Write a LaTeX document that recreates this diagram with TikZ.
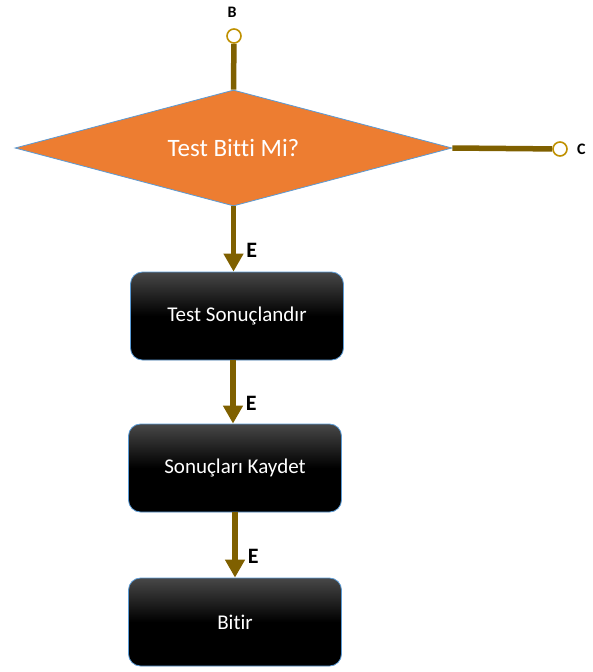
\documentclass[tikz,border=0pt]{standalone}
\usepackage{fontspec}
\setmainfont{Carlito}[Ligatures=NoCommon]
\usepackage{tikz}
\usepackage{xcolor}
\usetikzlibrary{shapes.geometric, arrows.meta, positioning, calc}
\definecolor{decision}{RGB}{237, 125, 49}
\definecolor{edgeblue}{RGB}{91, 155, 213}
\definecolor{flowbrown}{RGB}{127, 96, 0}
\definecolor{portgold}{RGB}{191, 144, 0}

\begin{document}
\begin{tikzpicture}[x=1pt, y=-1pt]
\tikzset{
  actbox/.style={rectangle, rounded corners=12pt, draw=edgeblue, line width=0.8pt,
      top color=black!72, bottom color=black, middle color=black,
      minimum width=213pt, minimum height=88pt, text=white, font=\fontsize{21}{24}\selectfont},
  flow/.style={draw=flowbrown, line width=5.5pt, -{Triangle[width=19pt,length=18pt]}},
  port/.style={circle, draw=portgold, fill=white, line width=1.6pt, minimum size=14pt, inner sep=0pt},
  tag/.style={font=\bfseries\fontsize{22}{24}\selectfont, inner sep=0pt}
}
\useasboundingbox (0,0) rectangle (592,672);

% Decision
\node[diamond, draw=edgeblue, line width=0.8pt, fill=decision, inner sep=0pt,
      aspect=3.77, minimum width=437pt, minimum height=116pt,
      text=white, font=\fontsize{25}{28}\selectfont] (test) at (233.5,148) {Test Bitti Mi?};

% Entry and exit ports
\node[port] (b) at (234,36) {};
\node[tag, font=\bfseries\fontsize{16}{18}\selectfont] (blabel) at (232,12) {B};
\node[port] (c) at (560,149) {};
\node[tag, font=\bfseries\fontsize{16}{18}\selectfont, right=9pt of c] (clabel) {C};

% Steps
\node[actbox] (sonuc) at (237,316) {Test Sonuçlandır};
\node[actbox] (kaydet) at (235,468) {Sonuçları Kaydet};
\node[actbox] (bitir) at (235,622) {Bitir};

% Connectors
\draw[draw=flowbrown, line width=5.5pt] (b) -- (test.north);
\draw[draw=flowbrown, line width=5.5pt] (test.east) -- (c);
\draw[flow] (test.south) -- (sonuc.north -| test.south)
      node[pos=0.68, right=10pt, tag] {E};
\draw[flow] (sonuc.south -| 233,0) -- (kaydet.north -| 233,0)
      node[pos=0.68, right=10pt, tag] {E};
\draw[flow] (kaydet.south -| 235,0) -- (bitir.north -| 235,0)
      node[pos=0.68, right=10pt, tag] {E};

\end{tikzpicture}
\end{document}
